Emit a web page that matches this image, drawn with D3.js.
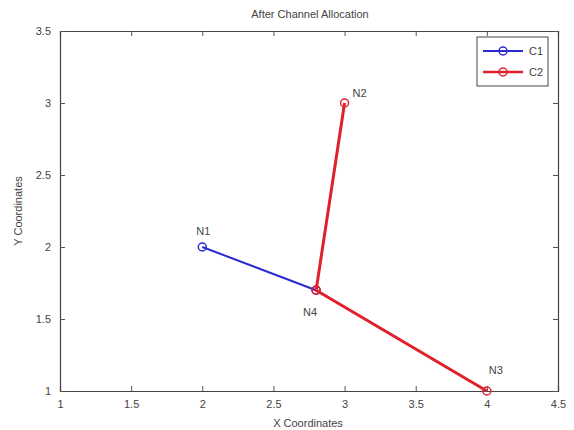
<!DOCTYPE html>
<html>
<head>
<meta charset="utf-8">
<script src="https://cdn.jsdelivr.net/npm/d3@7"></script>
<style>
  body { margin: 0; background: #fff; }
  text { font-family: "Liberation Sans", Arial, sans-serif; fill: #444; }
</style>
</head>
<body>
<svg id="chart" width="574" height="430"></svg>
<script>
// node coordinates
const nodeNames = ['N1', 'N2', 'N3', 'N4'];
const nodeX = [2, 3, 4, 2.8];
const nodeY = [2, 3, 1, 1.7];

// channel paths (by node name)
const seriesNames = ['C1', 'C2'];
const seriesPaths = [['N1', 'N4'], ['N2', 'N4', 'N3']];
const seriesColors = ['#2b2bd0', '#e0202a'];

const xTicks = [1, 1.5, 2, 2.5, 3, 3.5, 4, 4.5];
const yTicks = [1, 1.5, 2, 2.5, 3, 3.5];

const margin = { left: 60, right: 16, top: 31, bottom: 39 };
const width = 574, height = 430;
const svg = d3.select('#chart');

const x = d3.scaleLinear().domain([1, 4.5]).range([margin.left, width - margin.right]);
const y = d3.scaleLinear().domain([1, 3.5]).range([height - margin.bottom, margin.top]);

const fmt = d3.format('');
const tickLen = 5;

// axes with inward ticks, MATLAB style
svg.append('g').attr('transform', `translate(0,${y(1)})`)
    .call(d3.axisBottom(x).tickValues(xTicks).tickSize(-tickLen).tickPadding(9).tickFormat(fmt));
svg.append('g').attr('transform', `translate(0,${y(3.5)})`)
    .call(d3.axisTop(x).tickValues(xTicks).tickSize(-tickLen).tickFormat(''));
svg.append('g').attr('transform', `translate(${x(1)},0)`)
    .call(d3.axisLeft(y).tickValues(yTicks).tickSize(-tickLen).tickPadding(9).tickFormat(fmt));
svg.append('g').attr('transform', `translate(${x(4.5)},0)`)
    .call(d3.axisRight(y).tickValues(yTicks).tickSize(-tickLen).tickFormat(''));

svg.selectAll('.domain').attr('stroke', '#444').attr('stroke-width', 1.2);
svg.selectAll('.tick line').attr('stroke', '#555');
svg.selectAll('.tick text').attr('font-size', 11).attr('fill', '#555')
    .attr('font-family', '"Liberation Sans", Arial, sans-serif');

const pos = name => {
    const i = nodeNames.indexOf(name);
    return [x(nodeX[i]), y(nodeY[i])];
};

const line = d3.line();
seriesNames.forEach((s, k) => {
    const pts = seriesPaths[k].map(pos);
    svg.append('path').attr('d', line(pts))
        .attr('fill', 'none')
        .attr('stroke', seriesColors[k])
        .attr('stroke-width', k === 0 ? 2 : 3);
    svg.selectAll(null).data(pts).enter().append('circle')
        .attr('cx', d => d[0]).attr('cy', d => d[1]).attr('r', 4)
        .attr('fill', 'none').attr('stroke', seriesColors[k]).attr('stroke-width', 1.5);
});

// node labels
const labelOffset = { N1: [-6, -12], N2: [8, -6], N3: [2, -17], N4: [-13, 26] };
nodeNames.forEach(n => {
    const p = pos(n);
    svg.append('text').attr('x', p[0] + labelOffset[n][0]).attr('y', p[1] + labelOffset[n][1])
        .attr('font-size', 11).text(n);
});

// legend
const lg = svg.append('g').attr('transform', 'translate(477,37)');
lg.append('rect').attr('width', 71).attr('height', 49)
    .attr('fill', '#fff').attr('stroke', '#444').attr('stroke-width', 1);
seriesNames.forEach((s, k) => {
    const yy = 14 + k * 21;
    lg.append('line').attr('x1', 6).attr('x2', 46).attr('y1', yy).attr('y2', yy)
        .attr('stroke', seriesColors[k]).attr('stroke-width', k === 0 ? 2 : 2.5);
    lg.append('circle').attr('cx', 26).attr('cy', yy).attr('r', 4)
        .attr('fill', 'none').attr('stroke', seriesColors[k]).attr('stroke-width', 1.5);
    lg.append('text').attr('x', 52).attr('y', yy + 4).attr('font-size', 11).text(s);
});

// titles
svg.append('text').attr('x', 310).attr('y', 18).attr('text-anchor', 'middle')
    .attr('font-size', 11).text('After Channel Allocation');
svg.append('text').attr('x', 308).attr('y', 427).attr('text-anchor', 'middle')
    .attr('font-size', 11).text('X Coordinates');
svg.append('text').attr('transform', 'translate(22,211) rotate(-90)').attr('text-anchor', 'middle')
    .attr('font-size', 11).text('Y Coordinates');
</script>
</body>
</html>
